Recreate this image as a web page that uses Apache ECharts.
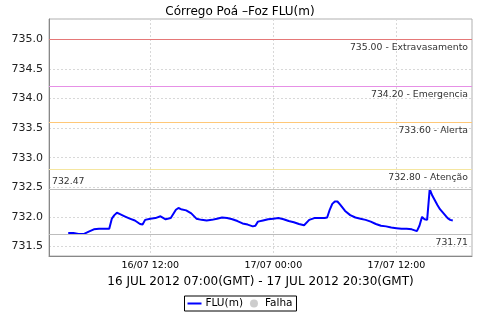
<!DOCTYPE html>
<html>
<head>
<meta charset="utf-8">
<script src="https://cdn.jsdelivr.net/npm/echarts@6/dist/echarts.min.js"></script>
<style>html,body{margin:0;padding:0;background:#fff}#c{width:480px;height:320px}</style>
</head>
<body>
<div id="c"></div>
<script>
// hours since 16/07/2012 00:00 (local, GMT-3)
const hours = [4,4.5,5,5.5,6,6.5,7,7.5,8,8.25,8.5,8.75,9,9.5,10,10.5,11,11.25,11.5,12,12.5,13,13.5,14,14.5,14.75,15,15.5,16,16.5,17,17.5,18,18.5,19,19.5,20,20.5,21,21.5,22,22.25,22.5,23,23.5,24,24.5,25,25.5,26,26.5,27,27.5,28,28.5,29,29.25,29.5,29.75,30,30.25,30.5,31,31.5,32,32.5,33,33.5,34,34.5,35,35.5,36,36.5,37,37.5,38,38.25,38.5,38.75,39,39.25,39.5,39.75,40,40.25,40.5,40.75,41,41.25,41.5];
const flu = [731.73,731.73,731.71,731.71,731.75,731.79,731.80,731.80,731.80,731.97,732.03,732.07,732.05,732.01,731.97,731.94,731.88,731.87,731.95,731.97,731.98,732.01,731.96,731.98,732.12,732.15,732.13,732.11,732.06,731.97,731.95,731.94,731.95,731.97,731.99,731.98,731.96,731.93,731.89,731.87,731.84,731.85,731.92,731.94,731.96,731.97,731.98,731.96,731.93,731.91,731.88,731.86,731.95,731.98,731.98,731.98,731.99,732.12,732.22,732.26,732.26,732.21,732.10,732.03,731.99,731.97,731.95,731.92,731.88,731.85,731.84,731.82,731.81,731.80,731.80,731.79,731.76,731.85,732.00,731.96,731.95,732.47,732.36,732.28,732.20,732.13,732.08,732.03,731.98,731.95,731.94];
const thresholdValues = [735.00, 734.20, 733.60, 732.80];
const thresholdNames = ['Extravasamento', 'Emergencia', 'Alerta', 'Atenção'];
const thresholdColors = ['#e57878', '#e690e6', '#ffc878', '#f5e6a0'];
const titleText = 'Córrego Poá –Foz FLU(m)';
const periodText = '16 JUL 2012 07:00(GMT) - 17 JUL 2012 20:30(GMT)';
const xMinHour = 2.125, xMaxHour = 43.375;
const yMin = 731.34, yMax = 735.34;

const base = Date.UTC(2012, 6, 16, 0, 0);
const H = 3600 * 1000;
const seriesData = hours.map((h, i) => [base + h * H, flu[i]]);
const pad = n => (n < 10 ? '0' : '') + n;
const FONT = 'DejaVu Sans';
const lineIcon = 'path://M0,0L0.01,0M0,3L14,3L14,5L0,5ZM13.99,8L14,8';

const thresholdLines = thresholdValues.map((v, i) => ({
  yAxis: v,
  lineStyle: { color: thresholdColors[i], type: 'solid', width: 1 },
  label: { formatter: v.toFixed(2) + ' - ' + thresholdNames[i], position: 'insideEndBottom' }
}));

const chart = echarts.init(document.getElementById('c'), null, { renderer: 'canvas' });
chart.setOption({
  useUTC: true,
  animation: false,
  backgroundColor: '#fff',
  title: {
    text: titleText, left: 'center', top: 1,
    textStyle: { fontFamily: FONT, fontSize: 12, fontWeight: 'normal', color: '#000' }
  },
  legend: {
    left: 'center', top: 296, orient: 'horizontal',
    borderColor: '#000', borderWidth: 1, borderRadius: 0,
    padding: [2, 4, 2, 3], itemGap: 7, itemWidth: 14, itemHeight: 8,
    textStyle: { fontFamily: FONT, fontSize: 10.5, color: '#000', padding: [0, 0, 0, -1] },
    data: [{ name: 'FLU(m)', icon: lineIcon }, { name: 'Falha', icon: 'circle' }]
  },
  grid: { left: 49, right: 8, top: 19, bottom: 64, show: true, borderColor: '#b0b0b0', borderWidth: 1 },
  xAxis: {
    type: 'time',
    min: base + xMinHour * H, max: base + xMaxHour * H,
    splitNumber: 3,
    name: periodText, nameLocation: 'middle', nameGap: 20,
    nameTextStyle: { fontFamily: FONT, fontSize: 12, color: '#000' },
    axisLine: { lineStyle: { color: '#888' } },
    axisTick: { show: false },
    axisLabel: {
      fontFamily: FONT, fontSize: 9.5, color: '#000', margin: 5,
      showMinLabel: false, showMaxLabel: false,
      formatter: function (val) {
        const d = new Date(val);
        return pad(d.getUTCDate()) + '/' + pad(d.getUTCMonth() + 1) + ' ' + pad(d.getUTCHours()) + ':' + pad(d.getUTCMinutes());
      }
    },
    splitLine: { show: true, lineStyle: { color: '#d8d8d8', type: [2, 2] } }
  },
  yAxis: {
    type: 'value', min: yMin, max: yMax, splitNumber: 8,
    axisLine: { show: true, lineStyle: { color: '#888' } },
    axisTick: { show: false },
    axisLabel: {
      fontFamily: FONT, fontSize: 11, color: '#222', margin: 6,
      showMinLabel: false, showMaxLabel: false,
      formatter: v => v.toFixed(1)
    },
    splitLine: { show: true, lineStyle: { color: '#d8d8d8', type: [2, 2] } }
  },
  series: [
    {
      name: 'FLU(m)', type: 'line', data: seriesData, symbol: 'none',
      lineStyle: { color: '#0000ff', width: 2 }, itemStyle: { color: '#0000ff' },
      markLine: {
        silent: true, symbol: 'none', animation: false,
        label: { fontFamily: FONT, fontSize: 9.3, color: '#333', distance: [4, 4] },
        data: thresholdLines.concat([
          { type: 'max', lineStyle: { color: '#bdbdbd', type: 'solid', width: 1 },
            label: { position: 'insideStartTop', formatter: p => p.value.toFixed(2), distance: 3 } },
          { type: 'min', lineStyle: { color: '#bdbdbd', type: 'solid', width: 1 },
            label: { position: 'insideEndBottom', formatter: p => p.value.toFixed(2) } }
        ])
      }
    },
    {
      name: 'Falha', type: 'scatter', data: [], symbol: 'circle',
      itemStyle: { color: '#c0c0c0' }
    }
  ]
});
</script>
</body>
</html>
